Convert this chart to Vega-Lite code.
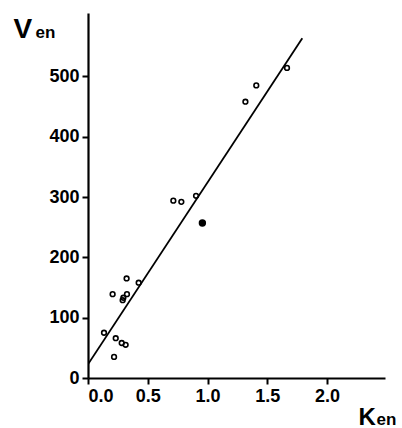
{
  "$schema": "https://vega.github.io/schema/vega-lite/v6.json",
  "width": 297,
  "height": 365,
  "autosize": "none",
  "padding": {"left": 88, "top": 13, "right": 17, "bottom": 50},
  "background": "white",
  "config": {
    "view": {"stroke": null},
    "font": "Liberation Sans",
    "axis": {"grid": false}
  },
  "datasets": {
    "pts": [
      {"k": 0.134, "v": 75, "kind": "open"},
      {"k": 0.206, "v": 139, "kind": "open"},
      {"k": 0.232, "v": 66, "kind": "open"},
      {"k": 0.218, "v": 35, "kind": "open"},
      {"k": 0.282, "v": 58, "kind": "open"},
      {"k": 0.315, "v": 55, "kind": "open"},
      {"k": 0.323, "v": 165, "kind": "open"},
      {"k": 0.326, "v": 139, "kind": "open"},
      {"k": 0.296, "v": 133, "kind": "open"},
      {"k": 0.29, "v": 129, "kind": "open"},
      {"k": 0.424, "v": 158, "kind": "open"},
      {"k": 0.714, "v": 294, "kind": "open"},
      {"k": 0.781, "v": 292, "kind": "open"},
      {"k": 0.904, "v": 302, "kind": "open"},
      {"k": 1.317, "v": 458, "kind": "open"},
      {"k": 1.408, "v": 485, "kind": "open"},
      {"k": 1.665, "v": 514, "kind": "open"}
    ],
    "filled": [
      {"k": 0.957, "v": 257}
    ],
    "fit": [
      {"k": 0.0, "v": 22.7},
      {"k": 1.793, "v": 563}
    ]
  },
  "resolve": {"axis": {"x": "independent", "y": "independent"}},
  "layer": [
    {
      "data": {"name": "fit"},
      "mark": {"type": "line", "color": "black", "strokeWidth": 1.8, "clip": true},
      "encoding": {
        "x": {
          "field": "k", "type": "quantitative",
          "scale": {"domain": [0, 2.485], "nice": false, "zero": false},
          "axis": {
            "orient": "bottom",
            "values": [0, 0.5, 1.0, 1.5, 2.0],
            "format": ".1f",
            "domainColor": "black", "domainWidth": 2.2,
            "tickColor": "black", "tickWidth": 2, "tickSize": 6,
            "labelFont": "Liberation Sans", "labelFontSize": 18, "labelFontWeight": "bold",
            "labelColor": "black", "labelPadding": 3,
            "title": "K",
            "titleFont": "Liberation Sans", "titleFontSize": 24, "titleFontWeight": "bold",
            "titleColor": "black", "titleAlign": "left", "titleBaseline": "alphabetic",
            "titleX": 270, "titleY": 46, "titleAngle": 0
          }
        },
        "y": {
          "field": "v", "type": "quantitative",
          "scale": {"domain": [0, 605], "nice": false, "zero": false},
          "axis": {
            "orient": "left",
            "values": [0, 100, 200, 300, 400, 500],
            "domainColor": "black", "domainWidth": 2.2,
            "tickColor": "black", "tickWidth": 2, "tickSize": 6,
            "labelFont": "Liberation Sans", "labelFontSize": 18, "labelFontWeight": "bold",
            "labelColor": "black", "labelPadding": 3,
            "title": "V",
            "titleFont": "Liberation Sans", "titleFontSize": 28, "titleFontWeight": "bold",
            "titleColor": "black", "titleAlign": "left", "titleBaseline": "alphabetic",
            "titleX": -75, "titleY": 24, "titleAngle": 0
          }
        }
      }
    },
    {
      "data": {"name": "pts"},
      "mark": {"type": "point", "shape": "circle", "filled": false, "color": "black", "strokeWidth": 1.6, "size": 22, "opacity": 1},
      "encoding": {
        "x": {
          "field": "k", "type": "quantitative",
          "axis": {
            "orient": "top", "domain": false, "ticks": false, "labels": false,
            "title": "en",
            "titleFont": "Liberation Sans", "titleFontSize": 17, "titleFontWeight": "bold",
            "titleColor": "black", "titleAlign": "left", "titleBaseline": "alphabetic",
            "titleX": 288, "titleY": 411, "titleAngle": 0
          }
        },
        "y": {
          "field": "v", "type": "quantitative",
          "axis": {
            "orient": "right", "domain": false, "ticks": false, "labels": false,
            "title": "en",
            "titleFont": "Liberation Sans", "titleFontSize": 17, "titleFontWeight": "bold",
            "titleColor": "black", "titleAlign": "left", "titleBaseline": "alphabetic",
            "titleX": -350, "titleY": 24, "titleAngle": 0
          }
        }
      }
    },
    {
      "data": {"name": "filled"},
      "mark": {"type": "point", "shape": "circle", "filled": true, "color": "black", "size": 55, "opacity": 1},
      "encoding": {
        "x": {"field": "k", "type": "quantitative", "axis": null},
        "y": {"field": "v", "type": "quantitative", "axis": null}
      }
    }
  ]
}
